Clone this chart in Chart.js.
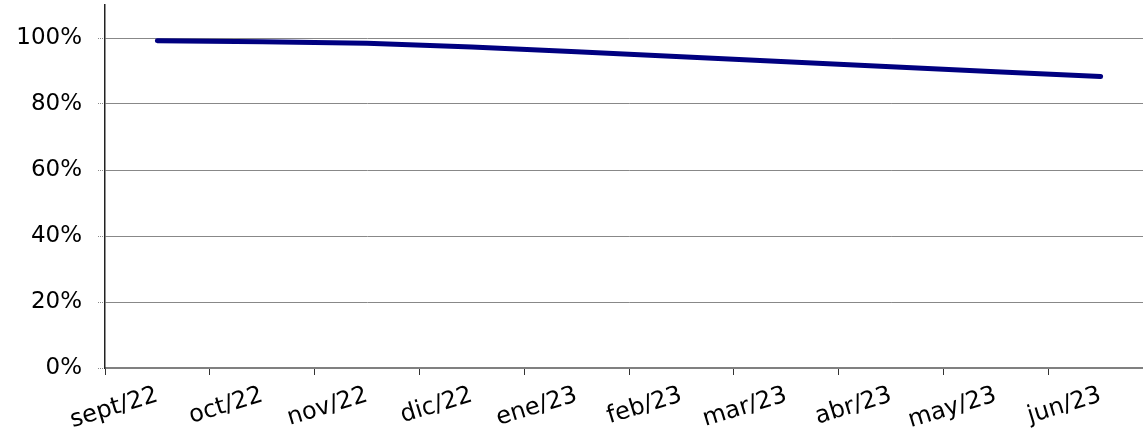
<!DOCTYPE html>
<html>
<head>
<meta charset="utf-8">
<script src="https://cdn.jsdelivr.net/npm/chart.js@4/dist/chart.umd.min.js"></script>
<style>
html,body{margin:0;padding:0;background:#fff;overflow:hidden;width:1143px;height:435px;}
#wrap{width:1153px;height:435px;position:relative;}
</style>
</head>
<body>
<div id="wrap"><canvas id="c"></canvas></div>
<script>
const categories = ["sept/22","oct/22","nov/22","dic/22","ene/23","feb/23","mar/23","abr/23","may/23","jun/23"];
const seriesValues = [99.2, 98.9, 98.4, 97.3, 95.8, 94.3, 92.8, 91.3, 89.8, 88.3];
const yTickValues = [0, 20, 40, 60, 80, 100];
const yMin = 0, yMax = 110;

new Chart(document.getElementById('c'), {
  type: 'line',
  data: {
    labels: categories,
    datasets: [{
      data: seriesValues,
      borderColor: '#000080',
      borderWidth: 5,
      borderCapStyle: 'round',
      borderJoinStyle: 'round',
      pointRadius: 0,
      tension: 0,
      fill: false
    }]
  },
  options: {
    responsive: true,
    maintainAspectRatio: false,
    animation: false,
    events: [],
    layout: { padding: { top: 5, right: 0, bottom: 0, left: 0 } },
    plugins: { legend: { display: false }, tooltip: { enabled: false } },
    scales: {
      x: {
        offset: true,
        grid: {
          offset: true,
          drawOnChartArea: false,
          drawTicks: true,
          tickLength: 7,
          tickColor: '#333',
          tickWidth: 1
        },
        border: { display: true, color: '#808080', width: 2 },
        ticks: {
          autoSkip: false,
          minRotation: 17,
          maxRotation: 17,
          padding: 6,
          color: '#000',
          font: { family: '"DejaVu Sans", Verdana, sans-serif', size: 24 }
        },
        afterFit: (axis) => { axis.height = 67; axis.paddingLeft = 0; axis.paddingRight = 0; }
      },
      y: {
        min: yMin,
        max: yMax,
        afterBuildTicks: (axis) => { axis.ticks = yTickValues.map(v => ({ value: v })); },
        grid: {
          color: '#888',
          lineWidth: 1,
          borderDash: [1, 1],
          drawTicks: true,
          tickLength: 7,
          tickColor: '#888',
          tickBorderDash: [1, 1]
        },
        border: { display: true, color: '#222', width: 1.5 },
        ticks: {
          padding: 16,
          color: '#000',
          font: { family: '"DejaVu Sans", Verdana, sans-serif', size: 23 },
          callback: (v) => v + '%'
        },
        afterFit: (axis) => { axis.width = 105; axis.paddingTop = 0; axis.paddingBottom = 0; }
      }
    }
  }
});
</script>
</body>
</html>
